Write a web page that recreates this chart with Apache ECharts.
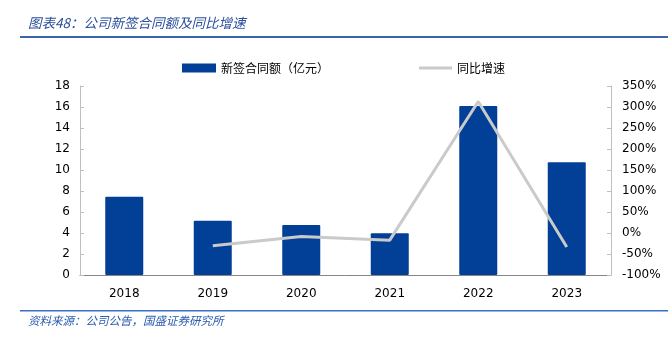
<!DOCTYPE html>
<html>
<head>
<meta charset="utf-8">
<script src="https://cdn.jsdelivr.net/npm/echarts@6/dist/echarts.min.js"></script>
<style>
  html, body { margin: 0; padding: 0; background: #fff; }
  #chart { width: 668px; height: 338px; }
</style>
</head>
<body>
<div id="chart"></div>
<script>
// 公司新签合同额（亿元）及同比增速（%）
const years = ['2018', '2019', '2020', '2021', '2022', '2023'];
const contractValue = [7.45, 5.17, 4.76, 3.97, 16.1, 10.73];
const yoyGrowth = [null, -30.6, -8.3, -17.0, 313, -33.4];
const leftTicks = { min: 0, max: 18, interval: 2 };
const rightTicks = { min: -100, max: 350, interval: 50 };

const titleText = '图表48：公司新签合同额及同比增速';
const sourceText = '资料来源：公司公告，国盛证券研究所';
const barName = '新签合同额（亿元）';
const lineName = '同比增速';

const labelFont = '"DejaVu Sans", Verdana, sans-serif';
const cjkFont = '"Noto Sans CJK SC", sans-serif';
const barColor = '#023f97';
const lineColor = '#cacaca';

const chart = echarts.init(document.getElementById('chart'), null, { renderer: 'canvas' });

chart.setOption({
  animation: false,
  backgroundColor: '#ffffff',
  grid: { left: 80, right: 57, top: 86, bottom: 63 },
  legend: [
    {
      top: 57, left: 177,
      itemWidth: 34, itemHeight: 9, itemGap: 4,
      icon: 'rect',
      textStyle: { fontFamily: cjkFont, fontSize: 12, color: '#000' },
      data: [barName]
    },
    {
      top: 57, left: 414,
      itemWidth: 33, itemHeight: 3, itemGap: 4,
      icon: 'rect',
      itemStyle: { color: lineColor },
      lineStyle: { width: 0 },
      textStyle: { fontFamily: cjkFont, fontSize: 12, color: '#000' },
      data: [lineName]
    }
  ],
  xAxis: {
    type: 'category',
    data: years,
    axisLine: { lineStyle: { color: '#868686', width: 1 } },
    axisTick: { inside: true, length: 5, lineStyle: { color: '#868686' } },
    axisLabel: { fontFamily: labelFont, fontSize: 12, color: '#000', margin: 13 }
  },
  yAxis: [
    {
      type: 'value',
      min: leftTicks.min, max: leftTicks.max, interval: leftTicks.interval,
      axisLine: { show: true, lineStyle: { color: '#bfbfbf' } },
      axisTick: { show: true, inside: true, length: 4, lineStyle: { color: '#bfbfbf' } },
      splitLine: { show: false },
      axisLabel: { fontFamily: labelFont, fontSize: 12, color: '#000', margin: 10 }
    },
    {
      type: 'value',
      position: 'right',
      min: rightTicks.min, max: rightTicks.max, interval: rightTicks.interval,
      axisLine: { show: true, lineStyle: { color: '#bfbfbf' } },
      axisTick: { show: true, inside: true, length: 4, lineStyle: { color: '#bfbfbf' } },
      splitLine: { show: false },
      axisLabel: { fontFamily: labelFont, fontSize: 12, color: '#000', margin: 11, formatter: '{value}%' }
    }
  ],
  series: [
    {
      name: barName,
      type: 'bar',
      yAxisIndex: 0,
      data: contractValue,
      barWidth: 38,
      itemStyle: { color: barColor, borderRadius: 1 }
    },
    {
      name: lineName,
      type: 'line',
      yAxisIndex: 1,
      data: yoyGrowth,
      showSymbol: false,
      symbol: 'none',
      connectNulls: false,
      lineStyle: { color: lineColor, width: 3 },
      itemStyle: { color: lineColor }
    }
  ],
  graphic: [
    {
      type: 'text', left: 28, top: 16,
      style: { text: titleText, fill: '#2a4f9c', font: 'italic 13.5px ' + cjkFont }
    },
    {
      type: 'rect', shape: { x: 20, y: 36, width: 648, height: 2 },
      style: { fill: '#3c64a8' }
    },
    {
      type: 'rect', shape: { x: 20, y: 310, width: 648, height: 1.5 },
      style: { fill: '#3a6fc9' }
    },
    {
      type: 'text', left: 28, top: 315,
      style: { text: sourceText, fill: '#2a5bb0', font: 'italic 11.5px ' + cjkFont }
    }
  ]
});
</script>
</body>
</html>
